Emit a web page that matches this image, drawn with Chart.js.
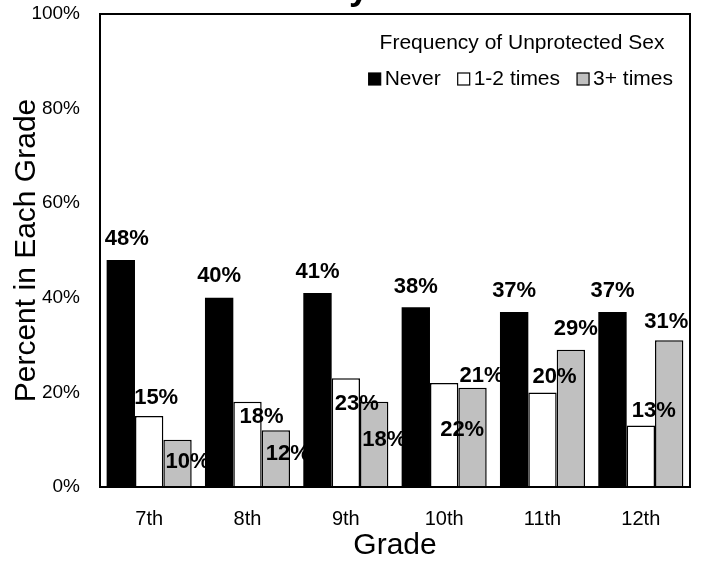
<!DOCTYPE html>
<html>
<head>
<meta charset="utf-8">
<script src="https://cdn.jsdelivr.net/npm/chart.js@4"></script>
<style>
  body { margin: 0; background: #fff; }
  canvas { display: block; }
</style>
</head>
<body>
<canvas id="myBarChart" width="706" height="568"></canvas>
<script>
var grades = ["7th", "8th", "9th", "10th", "11th", "12th"];
var never = [48, 40, 41, 38, 37, 37];
var oneTwo = [15, 18, 23, 22, 20, 13];
var threePlus = [10, 12, 18, 21, 29, 31];
var yTicks = [0, 20, 40, 60, 80, 100];

// where the percent labels sit, relative to the top centre of each bar
var neverLabelPos = [[6, -21], [0, -22], [0, -21], [0, -20], [0, -21], [0, -21]];
var oneTwoLabelPos = [[7, -18], [14, 15], [11, 26], [18, 47], [12, -15], [13, -15]];
var threeLabelPos = [[10, 22], [12, 24], [10, 38], [9, -12], [5, -21], [-3, -18]];

var FONT = "Arial, 'Liberation Sans', sans-serif";
Chart.defaults.font.family = FONT;
Chart.defaults.color = '#000';

var labelPlugin = {
    id: 'pctLabels',
    afterDatasetsDraw: function(chart) {
        var ctx = chart.ctx;
        var pos = [neverLabelPos, oneTwoLabelPos, threeLabelPos];
        ctx.save();
        ctx.font = "bold 22px " + FONT;
        ctx.fillStyle = '#000';
        ctx.textAlign = 'center';
        ctx.textBaseline = 'middle';
        chart.data.datasets.forEach(function(ds, i) {
            chart.getDatasetMeta(i).data.forEach(function(bar, j) {
                ctx.fillText(ds.data[j] + '%', bar.x + pos[i][j][0], bar.y + pos[i][j][1]);
            });
        });
        ctx.restore();
    }
};

// frame round the plot, the legend in its top right corner, and the cut-off title
var framePlugin = {
    id: 'frame',
    afterDraw: function(chart) {
        var a = chart.chartArea, ctx = chart.ctx;
        ctx.save();
        ctx.strokeStyle = '#000';
        ctx.lineWidth = 2;
        ctx.strokeRect(a.left, a.top, a.right - a.left, a.bottom - a.top);

        ctx.fillStyle = '#000';
        ctx.font = "21px " + FONT;
        ctx.textBaseline = 'middle';
        ctx.textAlign = 'center';
        ctx.fillText('Frequency of Unprotected Sex', a.right - 168, a.top + 29);

        var right = a.right - 17, y = a.top + 65, box = 12, gap = 17;
        var items = chart.data.datasets.map(function(ds) {
            return { text: ds.label, w: ctx.measureText(ds.label).width, fill: ds.backgroundColor };
        });
        var total = 0;
        items.forEach(function(it, k) { total += box + 4 + it.w + (k ? gap : 0); });
        var x = right - total;
        ctx.textAlign = 'left';
        items.forEach(function(it) {
            ctx.fillStyle = it.fill;
            ctx.fillRect(x, y - box / 2, box, box);
            ctx.lineWidth = 1.2;
            ctx.strokeStyle = '#000';
            ctx.strokeRect(x, y - box / 2, box, box);
            ctx.fillStyle = '#000';
            ctx.fillText(it.text, x + box + 4, y);
            x += box + 4 + it.w + gap;
        });

        ctx.font = "bold 36px " + FONT;
        ctx.textAlign = 'center';
        ctx.textBaseline = 'alphabetic';
        ctx.fillText('by Grade', 405, -1);
        ctx.restore();
    }
};

function noPad(scale) {
    scale.paddingTop = 0;
    scale.paddingBottom = 0;
    scale.paddingLeft = 0;
    scale.paddingRight = 0;
}

var ctx = document.getElementById("myBarChart").getContext('2d');
var myBarChart = new Chart(ctx, {
    type: 'bar',
    data: {
        labels: grades,
        datasets: [
            {
                label: 'Never',
                data: never,
                backgroundColor: '#000',
                borderColor: '#000',
                borderWidth: 0
            },
            {
                label: '1-2 times',
                data: oneTwo,
                backgroundColor: '#fff',
                borderColor: '#000',
                borderWidth: 1.5
            },
            {
                label: '3+ times',
                data: threePlus,
                backgroundColor: '#c0c0c0',
                borderColor: '#000',
                borderWidth: 1.5
            }
        ]
    },
    options: {
        responsive: false,
        animation: false,
        categoryPercentage: 0.865,
        barPercentage: 1.0,
        layout: { padding: { top: 14, right: 16, left: 0, bottom: 0 } },
        plugins: {
            legend: { display: false },
            tooltip: { enabled: false }
        },
        scales: {
            x: {
                grid: { display: false, drawTicks: false },
                border: { display: true, color: '#000', width: 2 },
                ticks: { font: { size: 20 }, color: '#000', padding: 20 },
                title: {
                    display: true,
                    text: 'Grade',
                    font: { size: 30 },
                    color: '#000',
                    padding: { top: 0, bottom: 4 }
                },
                afterFit: function(scale) { scale.height = 81; noPad(scale); }
            },
            y: {
                min: 0,
                max: 100,
                grid: { display: false, drawTicks: false },
                border: { display: true, color: '#000', width: 2 },
                afterBuildTicks: function(scale) {
                    scale.ticks = yTicks.map(function(v) { return { value: v }; });
                },
                ticks: {
                    font: { size: 19 },
                    color: '#000',
                    padding: 20,
                    callback: function(v) { return v + '%'; }
                },
                title: {
                    display: true,
                    text: 'Percent in Each Grade',
                    font: { size: 30 },
                    color: '#000',
                    padding: { top: 9, bottom: 0 }
                },
                afterFit: function(scale) { scale.width = 100; noPad(scale); }
            }
        }
    },
    plugins: [labelPlugin, framePlugin]
});
</script>
</body>
</html>
